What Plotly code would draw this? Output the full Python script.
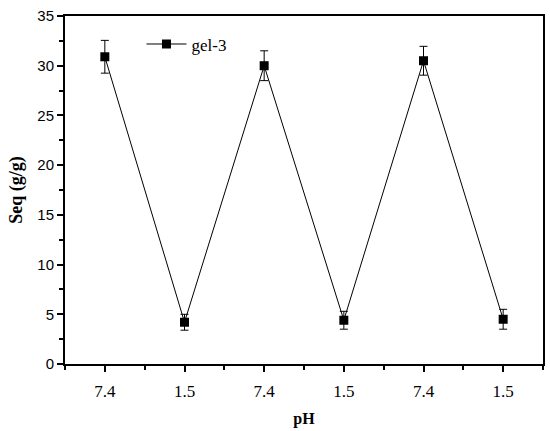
import plotly.graph_objects as go

# 数据
cycle = [1, 2, 3, 4, 5, 6]
ph_labels = ["7.4", "1.5", "7.4", "1.5", "7.4", "1.5"]
seq = [30.9, 4.2, 30.0, 4.4, 30.5, 4.5]
seq_err = [1.65, 0.8, 1.5, 0.9, 1.45, 1.0]

serif = "Liberation Serif"
sans = "Liberation Sans"

fig = go.Figure()

fig.add_trace(go.Scatter(
    x=cycle, y=seq,
    mode="lines+markers",
    name="gel-3",
    line=dict(color="black", width=1),
    marker=dict(symbol="square", size=9, color="black"),
    error_y=dict(type="data", array=seq_err, color="black", thickness=1, width=4),
))

fig.update_layout(
    width=550, height=431,
    paper_bgcolor="white", plot_bgcolor="white",
    margin=dict(l=65, r=7, t=16, b=67, autoexpand=False),
    showlegend=True,
    legend=dict(
        x=0.16, y=0.97, xanchor="left", yanchor="top",
        font=dict(family=serif, size=17, color="black"),
        bgcolor="rgba(0,0,0,0)", itemwidth=40,
    ),
    xaxis=dict(
        range=[0.5, 6.5], automargin=False,
        tickvals=cycle, ticktext=ph_labels,
        ticks="outside", ticklen=6, tickwidth=1.5, tickcolor="black",
        ticklabelstandoff=5,
        minor=dict(tick0=0.5, dtick=1, ticks="outside", ticklen=4, tickwidth=1.5, tickcolor="black"),
        showline=True, linecolor="black", linewidth=2, mirror=True,
        showgrid=False, zeroline=False,
        tickfont=dict(family=serif, size=17, color="black"),
        title=dict(text="<b>pH</b>", font=dict(family=serif, size=16, color="black"), standoff=12),
    ),
    yaxis=dict(
        range=[0, 35], dtick=5, automargin=False,
        ticks="outside", ticklen=6, tickwidth=1.5, tickcolor="black",
        minor=dict(dtick=2.5, ticks="outside", ticklen=4, tickwidth=1.5, tickcolor="black"),
        showline=True, linecolor="black", linewidth=2, mirror=True,
        showgrid=False, zeroline=False,
        tickfont=dict(family=sans, size=15, color="black"),
        title=dict(text="<b>Seq (g/g)</b>", font=dict(family=serif, size=18, color="black"), standoff=10),
    ),
)

# 去掉页面默认边距，隐藏工具栏
fig.write_html("out.html", config={"displayModeBar": False},
               post_script="document.body.style.margin='0';")
